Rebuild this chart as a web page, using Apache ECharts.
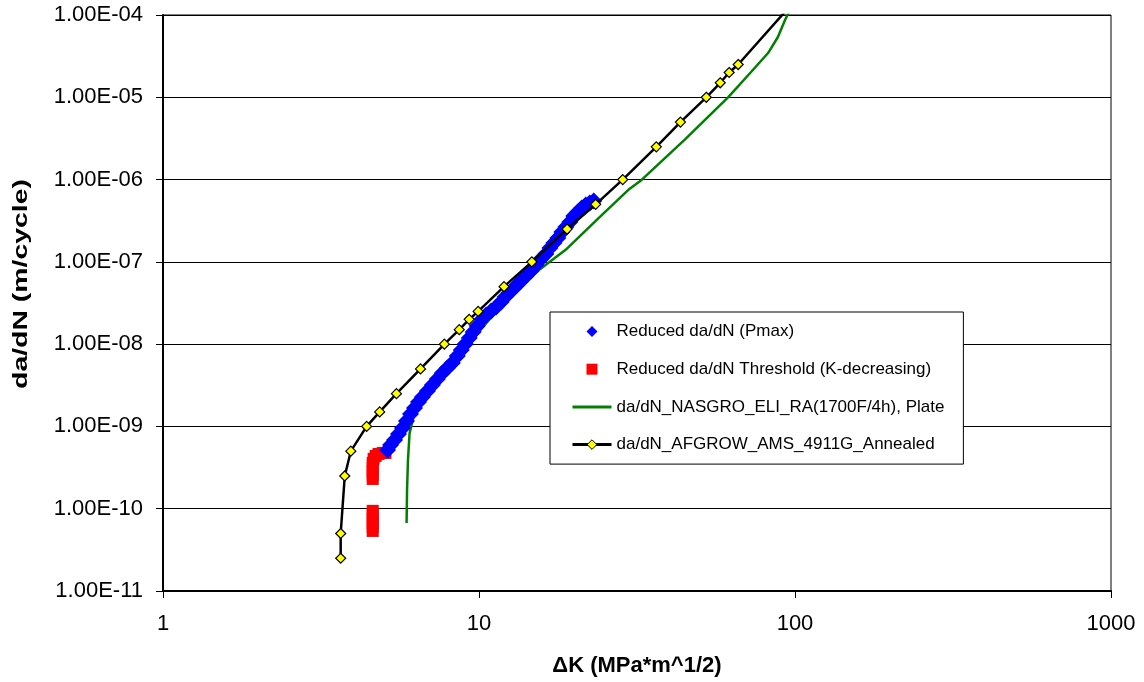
<!DOCTYPE html>
<html>
<head>
<meta charset="utf-8">
<title>da/dN vs ΔK</title>
<script src="https://cdn.jsdelivr.net/npm/echarts@6/dist/echarts.min.js"></script>
<style>
  html, body { margin: 0; padding: 0; background: #fff; }
  #chart { width: 1144px; height: 682px; }
</style>
</head>
<body>
<div id="chart"></div>
<script>
// Series names (legend order)
const seriesNames = [
  'Reduced da/dN (Pmax)',
  'Reduced da/dN Threshold (K-decreasing)',
  'da/dN_NASGRO_ELI_RA(1700F/4h), Plate',
  'da/dN_AFGROW_AMS_4911G_Annealed'
];

// Reduced da/dN (Pmax) test data: ΔK [MPa*m^1/2], da/dN [m/cycle]
const pmaxK = [5.136, 5.249, 5.404, 5.563, 5.728, 5.897, 6.071, 6.250, 6.434, 6.622,
  6.867, 7.121, 7.385, 7.656, 7.939, 8.234, 8.537, 8.789, 9.048, 9.314,
  9.587, 9.870, 10.23, 10.54, 10.93, 11.33, 11.75, 12.09, 12.45, 12.82,
  13.20, 13.58, 14.09, 14.61, 15.15, 15.70, 16.28, 16.77, 17.26, 17.77,
  18.29, 18.83, 19.39, 19.95, 20.54, 21.14, 21.77, 22.41, 23.07];
const pmaxRate = [5.18e-10, 5.96e-10, 6.86e-10, 8.11e-10, 9.59e-10, 1.166e-9, 1.418e-9, 1.678e-9, 1.984e-9, 2.283e-9,
  2.699e-9, 3.193e-9, 3.776e-9, 4.466e-9, 5.137e-9, 5.909e-9, 7.188e-9, 8.50e-9, 1.006e-8, 1.189e-8,
  1.406e-8, 1.663e-8, 2.023e-8, 2.263e-8, 2.531e-8, 2.831e-8, 3.257e-8, 3.746e-8, 4.19e-8, 4.686e-8,
  5.24e-8, 5.86e-8, 6.74e-8, 7.75e-8, 9.17e-8, 1.084e-7, 1.247e-7, 1.475e-7, 1.697e-7, 1.952e-7,
  2.308e-7, 2.655e-7, 3.054e-7, 3.612e-7, 4.04e-7, 4.52e-7, 4.91e-7, 5.19e-7, 5.50e-7];

// Threshold (K-decreasing) test data
const thresholdK = [4.61, 4.61, 4.61, 4.61, 4.61, 4.61,
  4.61, 4.61, 4.61, 4.61, 4.61, 4.64, 4.71, 4.81, 4.96, 5.06];
const thresholdRate = [5.37e-11, 6.01e-11, 6.72e-11, 7.52e-11, 8.41e-11, 9.40e-11,
  2.30e-10, 2.57e-10, 2.88e-10, 3.22e-10, 3.60e-10, 4.03e-10, 4.38e-10, 4.63e-10, 4.76e-10, 4.76e-10];

// NASGRO curve, ELI RA 1700F/4h plate
const nasgroK = [5.90, 5.92, 5.96, 6.03, 6.25, 6.97, 7.77, 9.31, 11.17, 13.1,
  15.48, 18.8, 23.9, 29.7, 32.7, 44.7, 61.4, 72.6, 82.2, 88.3, 93.0, 96.4];
const nasgroRate = [6.7e-11, 1.69e-10, 3.92e-10, 8.3e-10, 1.46e-9, 2.63e-9, 4.22e-9, 1.035e-8, 2.33e-8, 4.56e-8,
  7.97e-8, 1.4e-7, 3.4e-7, 7.5e-7, 9.9e-7, 3.03e-6, 1e-5, 2.03e-5, 3.45e-5, 5.4e-5, 8.7e-5, 1.15e-4];

// AFGROW table, AMS 4911G annealed
const afgrowK = [3.65, 3.65, 3.76, 3.93, 4.41, 4.85, 5.48, 6.53, 7.77, 8.66,
  9.31, 9.94, 12.0, 14.7, 19.0, 23.4, 28.5, 36.4, 43.4, 52.4,
  58.0, 61.9, 66.1, 100];
const afgrowRate = [2.5e-11, 5e-11, 2.5e-10, 5e-10, 1e-9, 1.5e-9, 2.5e-9, 5e-9, 1e-8, 1.5e-8,
  2e-8, 2.5e-8, 5e-8, 1e-7, 2.5e-7, 5e-7, 1e-6, 2.5e-6, 5e-6, 1e-5,
  1.5e-5, 2e-5, 2.5e-5, 1.5e-4];

// Axis ticks and titles
const xTickLabels = ['1', '10', '100', '1000'];
const yTickLabels = ['1.00E-11', '1.00E-10', '1.00E-09', '1.00E-08', '1.00E-07', '1.00E-06', '1.00E-05', '1.00E-04'];
const xAxisTitle = 'ΔK (MPa*m^1/2)';
const yAxisTitle = 'da/dN (m/cycle)';

const pairs = (xs, ys) => xs.map((x, i) => [x, ys[i]]);
const FONT = '"Liberation Sans", Arial, Helvetica, sans-serif';
const xMinExp = 0, yMinExp = -11;

// Legend markers: the leading moves span the full 39x12 icon box so the
// marker keeps its proportions and sits centred in the box.
const legendDiamond = 'path://M0,0M39,12M19.5,0.5L25,6L19.5,11.5L14,6Z';
const legendSquare = 'path://M0,0M39,12M14,0.5L25,0.5L25,11.5L14,11.5Z';

const chart = echarts.init(document.getElementById('chart'), null, { renderer: 'canvas' });

chart.setOption({
  animation: false,
  backgroundColor: '#ffffff',
  grid: {
    left: 163, top: 15, width: 948, height: 576,
    show: true, borderColor: '#000', borderWidth: 1, backgroundColor: 'transparent'
  },
  xAxis: {
    type: 'log', logBase: 10, min: 1, max: 1000,
    name: xAxisTitle, nameLocation: 'middle', nameGap: 64,
    nameTextStyle: { fontFamily: FONT, fontSize: 22, fontWeight: 'bold', color: '#000' },
    axisLine: { show: true, onZero: false, lineStyle: { color: '#000', width: 2 } },
    axisTick: { show: true, inside: false, length: 7, lineStyle: { color: '#000', width: 1 } },
    axisLabel: {
      show: true, margin: 22, fontFamily: FONT, fontSize: 22, color: '#000',
      showMinLabel: true, showMaxLabel: true,
      formatter: v => xTickLabels[Math.round(Math.log10(v)) - xMinExp]
    },
    splitLine: { show: false },
    minorTick: { show: false }, minorSplitLine: { show: false }
  },
  yAxis: {
    type: 'log', logBase: 10, min: 1e-11, max: 1e-4,
    axisLine: { show: true, onZero: false, lineStyle: { color: '#000', width: 2 } },
    axisTick: { show: true, inside: false, length: 7, lineStyle: { color: '#000', width: 1 } },
    axisLabel: {
      show: true, margin: 20, fontFamily: FONT, fontSize: 22, color: '#000',
      showMinLabel: true, showMaxLabel: true,
      formatter: v => yTickLabels[Math.round(Math.log10(v)) - yMinExp]
    },
    splitLine: { show: true, lineStyle: { color: '#000', width: 1 } },
    minorTick: { show: false }, minorSplitLine: { show: false }
  },
  legend: {
    orient: 'vertical', left: 550, top: 312,
    itemWidth: 39, itemHeight: 12, itemGap: 20.7,
    padding: [11, 19, 11, 21],
    backgroundColor: '#fff', borderColor: '#000', borderWidth: 1, borderRadius: 0,
    textStyle: { fontFamily: FONT, fontSize: 17, color: '#000' },
    selectedMode: false,
    data: [
      { name: seriesNames[0], icon: legendDiamond },
      { name: seriesNames[1], icon: legendSquare },
      { name: seriesNames[2], itemStyle: { opacity: 0 }, lineStyle: { color: '#008000', width: 3 } },
      { name: seriesNames[3], itemStyle: { color: '#ffff00', borderColor: '#000', borderWidth: 1 }, lineStyle: { color: '#000', width: 3 } }
    ]
  },
  graphic: [{
    type: 'text', x: 21, y: 284, rotation: Math.PI / 2, scaleX: 1.42,
    style: {
      text: yAxisTitle, fontFamily: FONT, fontSize: 20, fontWeight: 'bold',
      fill: '#000', align: 'center', verticalAlign: 'middle'
    }
  }],
  series: [
    {
      name: seriesNames[0], type: 'scatter', z: 4,
      symbol: 'diamond', symbolSize: 17,
      itemStyle: { color: '#0000ff', opacity: 1 },
      data: pairs(pmaxK, pmaxRate)
    },
    {
      name: seriesNames[1], type: 'scatter', z: 3,
      symbol: 'rect', symbolSize: 12,
      itemStyle: { color: '#ff0000', opacity: 1 },
      data: pairs(thresholdK, thresholdRate)
    },
    {
      name: seriesNames[2], type: 'line', z: 2,
      symbol: 'none', showSymbol: false,
      lineStyle: { color: '#008000', width: 2.5 },
      itemStyle: { color: '#008000' },
      data: pairs(nasgroK, nasgroRate)
    },
    {
      name: seriesNames[3], type: 'line', z: 5,
      symbol: 'diamond', symbolSize: 10, showSymbol: true,
      lineStyle: { color: '#000', width: 2.5 },
      itemStyle: { color: '#ffff00', borderColor: '#000', borderWidth: 1.2 },
      data: pairs(afgrowK, afgrowRate)
    }
  ]
});
</script>
</body>
</html>
